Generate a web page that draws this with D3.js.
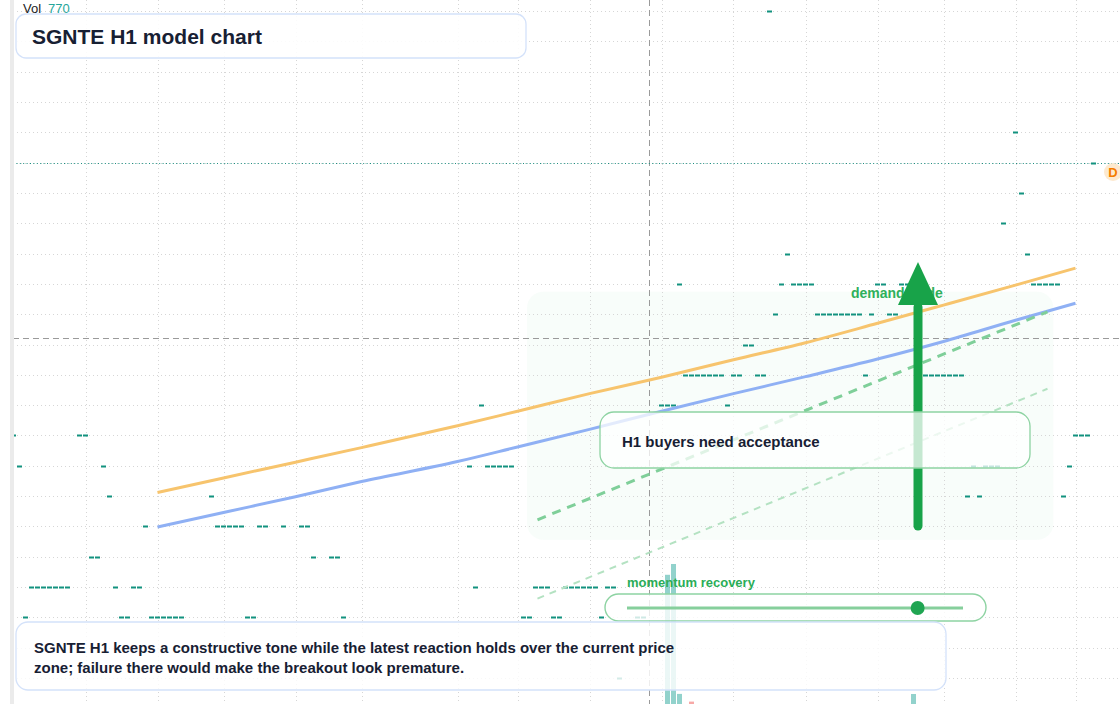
<!DOCTYPE html>
<html><head><meta charset="utf-8">
<script src="https://cdn.jsdelivr.net/npm/d3@7"></script>
<style>
html,body{margin:0;padding:0;background:#fff;overflow:hidden}
svg{display:block;font-family:"Liberation Sans",Arial,Helvetica,sans-serif}
</style>
</head><body>
<svg id="chart" width="1120" height="704"></svg>
<script>
// ---------- data ----------
const priceTicks = [36.0,35.5,35.0,34.5,34.0,33.5,33.0,32.5,32.0,31.5,31.0,30.5,30.0,29.5,29.0,28.5,28.0,27.5,27.0,26.5,26.0,25.5,25.0];
const timeTicks = [12,24,35,47,58,74,84,96,108,120,132,144,155,167,177]; // candle indices of time gridlines

const candleIdx = [0,1,2,3,4,5,6,7,8,9,11,12,13,14,15,16,17,18,19,20,21,22,23,24,25,26,27,28,
  33,34,35,36,37,38,39,40,41,42,45,48,49,50,53,54,55,
  76,77,78,79,80,81,82,83,85,86,87,88,89,90,91,92,93,94,95,96,97,98,99,100,101,104,105,
  108,109,110,111,112,113,114,115,116,117,118,119,120,121,122,123,124,125,126,127,128,129,
  130,131,132,133,134,135,136,137,138,139,140,141,142,143,144,145,146,147,148,149,150,
  152,153,154,155,156,157,158,159,160,161,162,163,164,165,167,168,169,170,171,172,173,174,
  175,176,177,178,179,180];
const candleClose = [29.0,28.5,26.0,26.5,26.5,26.5,26.5,26.5,26.5,26.5,29.0,29.0,27.0,27.0,28.5,28.0,26.5,26.0,26.0,26.5,26.5,27.5,26.0,26.0,26.0,26.0,26.0,26.0,
  28.0,27.5,27.5,27.5,27.5,27.5,26.0,26.0,27.5,27.5,27.5,27.5,27.5,27.0,27.0,27.0,26.0,
  28.5,26.5,29.5,28.5,28.5,28.5,28.5,28.5,26.0,26.0,26.5,26.5,26.5,26.0,26.0,26.5,26.5,26.5,26.5,26.5,26.5,26.0,26.5,26.5,25.0,26.0,26.0,
  29.5,29.5,29.5,31.5,30.0,30.0,30.0,30.0,30.0,30.0,30.0,29.5,30.0,30.0,30.5,30.5,30.0,30.0,36.0,31.0,31.5,32.0,
  31.5,31.5,31.5,31.5,31.0,31.0,31.0,31.0,31.0,31.0,31.0,31.0,30.0,31.0,31.5,31.5,31.0,31.0,31.5,31.5,31.5,
  30.0,30.0,30.0,30.0,30.0,30.0,30.0,28.0,28.5,28.0,28.5,28.5,28.5,32.5,34.0,33.0,32.0,31.5,31.5,31.5,31.5,31.5,
  28.0,28.5,29.0,29.0,29.0,33.5];

const volIdx = [109,110,111,113,150];
const volValue = [6460,7000,505,120,500];
const volUp = [true,true,true,false,true];
const lastVolume = 770;

const maIdx = [24,35,47,58,74,84,96,108,120,132,144,155,167,177];
const maSlow = [28.06,28.30,28.56,28.80,29.16,29.40,29.69,29.96,30.25,30.53,30.85,31.15,31.48,31.76]; // orange
const maFast = [27.49,27.73,27.99,28.24,28.57,28.81,29.10,29.40,29.69,29.97,30.26,30.55,30.90,31.18]; // blue

const projMainIdx = [87.33,172.33], projMain = [27.61,31.04];
const projLowIdx = [87.33,172.33], projLow = [26.31,29.77];

const zoneIdx = [85.6,173.3], zonePrice = [27.28,31.37];
const arrowIdx = 150.75, arrowFrom = 27.44, arrowTo = 31.86, arrowHeadBase = 31.15;
const crossIdx = 106, crossPrice = 30.61;
const lastPrice = 33.5;

const titleText = "SGNTE H1 model chart";
const noteText = "H1 buyers need acceptance";
const zoneText = "demand trade";
const momentumText = "momentum recovery";
const momentumValue = 0.865;
const bodyLines = ["SGNTE H1 keeps a constructive tone while the latest reaction holds over the current price",
                   "zone; failure there would make the breakout look premature."];

// ---------- setup ----------
const W = 1120, H = 704;
const svg = d3.select("#chart");
const x = d3.scaleLinear().domain([0,177]).range([13.5,1075.5]);
const y = d3.scaleLinear().domain([25,36]).range([678.04,11]);
const vy = d3.scaleLinear().domain([0,7000]).range([704,564]);
const dark = "#172033";

// zone
svg.append("rect")
  .attr("x", x(zoneIdx[0])).attr("y", y(zonePrice[1]))
  .attr("width", x(zoneIdx[1]) - x(zoneIdx[0])).attr("height", y(zonePrice[0]) - y(zonePrice[1]))
  .attr("rx", 16).attr("fill", "#22c55e").attr("fill-opacity", 0.03);

// grid
const grid = svg.append("g").attr("stroke", "#d6d6d6").attr("stroke-width", 1).attr("stroke-dasharray", "1,3");
grid.selectAll("line.h").data(priceTicks).join("line").attr("class","h")
  .attr("x1", 13).attr("x2", W).attr("y1", d => Math.round(y(d)) + 0.5).attr("y2", d => Math.round(y(d)) + 0.5);
grid.selectAll("line.v").data(timeTicks).join("line").attr("class","v")
  .attr("y1", 0).attr("y2", H).attr("x1", d => Math.round(x(d)) + 0.5).attr("x2", d => Math.round(x(d)) + 0.5);

// crosshair
svg.append("line").attr("x1", Math.round(x(crossIdx)) - 0.5).attr("x2", Math.round(x(crossIdx)) - 0.5)
  .attr("y1", 0).attr("y2", H).attr("stroke", "#9a9a9a").attr("stroke-dasharray", "6,4");
svg.append("line").attr("x1", 13).attr("x2", W).attr("y1", Math.round(y(crossPrice)) + 0.5).attr("y2", Math.round(y(crossPrice)) + 0.5)
  .attr("stroke", "#9a9a9a").attr("stroke-dasharray", "6,4");

// last price line
svg.append("line").attr("x1", 13).attr("x2", W).attr("y1", Math.round(y(lastPrice)) + 0.5).attr("y2", Math.round(y(lastPrice)) + 0.5)
  .attr("stroke", "#1b8f80").attr("stroke-width", 1).attr("stroke-dasharray", "1,2.4");

// candles (flat bodies)
const candles = candleIdx.map((d, i) => ({i: d, c: candleClose[i]}));
svg.append("g").selectAll("rect").data(candles).join("rect")
  .attr("x", d => x(d.i) - 2.5).attr("width", 5)
  .attr("y", d => Math.round(y(d.c)) - 0.5).attr("height", 2)
  .attr("fill", "#12927f");

// volume
const vols = volIdx.map((d, i) => ({i: d, v: volValue[i], up: volUp[i]}));
svg.append("g").selectAll("rect").data(vols).join("rect")
  .attr("x", d => x(d.i) - 2.5).attr("width", 5)
  .attr("y", d => vy(d.v)).attr("height", d => vy(0) - vy(d.v))
  .attr("fill", d => d.up ? "rgba(38,166,154,0.5)" : "rgba(239,83,80,0.5)");

// moving lines
const line = d3.line().x(d => x(d[0])).y(d => y(d[1])).curve(d3.curveMonotoneX);
svg.append("path").attr("d", line(maIdx.map((d,i)=>[d, maSlow[i]])))
  .attr("fill","none").attr("stroke","#f7c46d").attr("stroke-width",3);
svg.append("path").attr("d", line(maIdx.map((d,i)=>[d, maFast[i]])))
  .attr("fill","none").attr("stroke","#8fb0f4").attr("stroke-width",3);

// projections
svg.append("path").attr("d", d3.line().x(d=>x(d[0])).y(d=>y(d[1]))(projLowIdx.map((d,i)=>[d, projLow[i]])))
  .attr("fill","none").attr("stroke","#b4e2c2").attr("stroke-width",2).attr("stroke-dasharray","7,6");
svg.append("path").attr("d", d3.line().x(d=>x(d[0])).y(d=>y(d[1]))(projMainIdx.map((d,i)=>[d, projMain[i]])))
  .attr("fill","none").attr("stroke","#7fcf99").attr("stroke-width",3).attr("stroke-dasharray","9,7");

// zone label
svg.append("text").attr("x", 851).attr("y", 298).attr("font-size", 14).attr("font-weight", "bold")
  .attr("fill", "#2fb05b").text(zoneText);

// arrow
const ax = x(arrowIdx);
svg.append("line").attr("x1", ax).attr("x2", ax).attr("y1", y(arrowFrom) - 4).attr("y2", y(arrowHeadBase) + 2)
  .attr("stroke", "#18a349").attr("stroke-width", 9).attr("stroke-linecap", "round");
svg.append("path")
  .attr("d", `M${ax},${y(arrowTo)} L${ax-20},${y(arrowHeadBase)} L${ax+20},${y(arrowHeadBase)} Z`)
  .attr("fill", "#18a349");

// H1 note box
svg.append("rect").attr("x", 600).attr("y", 412).attr("width", 430).attr("height", 56).attr("rx", 14)
  .attr("fill", "#fff").attr("fill-opacity", 0.75).attr("stroke", "#8dd3a2").attr("stroke-width", 1.3);
svg.append("text").attr("x", 622).attr("y", 447).attr("font-size", 15).attr("font-weight", "bold")
  .attr("fill", dark).text(noteText);

// momentum pill
svg.append("text").attr("x", 627).attr("y", 587).attr("font-size", 13).attr("font-weight", "bold")
  .attr("fill", "#2aad57").text(momentumText);
svg.append("rect").attr("x", 605).attr("y", 594).attr("width", 381).attr("height", 27).attr("rx", 13.5)
  .attr("fill", "#fff").attr("fill-opacity", 0.8).attr("stroke", "#8dd3a2").attr("stroke-width", 1.4);
const sx = d3.scaleLinear().domain([0,1]).range([627,963]);
svg.append("line").attr("x1", sx(0)).attr("x2", sx(1)).attr("y1", 608).attr("y2", 608)
  .attr("stroke", "#86cf9c").attr("stroke-width", 3);
svg.append("circle").attr("cx", sx(momentumValue)).attr("cy", 608).attr("r", 7).attr("fill", "#20a552");

// bottom note box
svg.append("rect").attr("x", 16).attr("y", 622).attr("width", 930).attr("height", 68).attr("rx", 12)
  .attr("fill", "#fff").attr("fill-opacity", 0.82).attr("stroke", "#d4e2fa").attr("stroke-width", 1.3);
svg.append("g").selectAll("text").data(bodyLines).join("text")
  .attr("x", 34).attr("y", (d,i) => 653 + i*20).attr("font-size", 15).attr("font-weight", "bold")
  .attr("fill", dark).text(d => d);

// left band
svg.append("rect").attr("x", 10).attr("y", 0).attr("width", 4).attr("height", H).attr("fill", "#ebebeb");

// title box
svg.append("rect").attr("x", 16).attr("y", 14).attr("width", 510).attr("height", 44).attr("rx", 10)
  .attr("fill", "#fff").attr("fill-opacity", 0.9).attr("stroke", "#d4e2fa").attr("stroke-width", 1.3);
svg.append("text").attr("x", 32).attr("y", 43.5).attr("font-size", 21).attr("font-weight", "bold")
  .attr("fill", dark).text(titleText);

// volume legend
const vt = svg.append("text").attr("x", 23).attr("y", 13).attr("font-size", 13);
vt.append("tspan").attr("fill", "#222").text("Vol");
vt.append("tspan").attr("dx", 7).attr("fill", "#26a69a").text(lastVolume);

// right price badge
svg.append("circle").attr("cx", 1113).attr("cy", 172).attr("r", 9).attr("fill", "#fde9cf");
svg.append("text").attr("x", 1113).attr("y", 176.5).attr("text-anchor", "middle").attr("font-size", 13)
  .attr("font-weight", "bold").attr("fill", "#f57c00").text("D");
</script>
</body></html>
